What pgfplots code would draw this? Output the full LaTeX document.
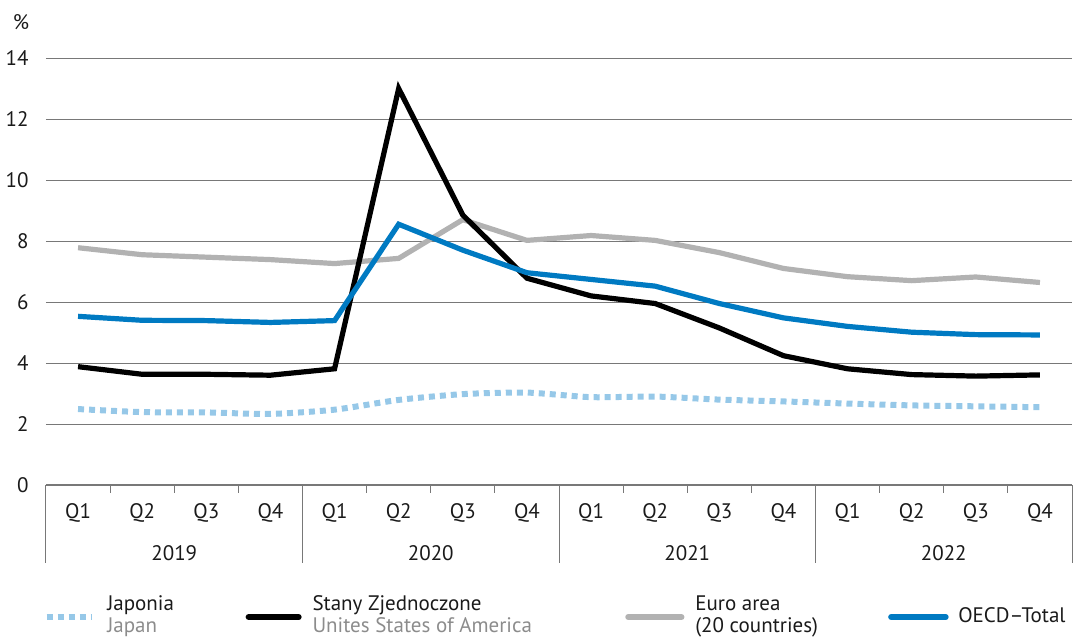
\documentclass[border=0pt]{standalone}
\usepackage{pgfplots}
\pgfplotsset{compat=1.18}
\usepackage{fontspec}
\setmainfont{PT Sans}
\definecolor{usa}{RGB}{0,0,0}
\definecolor{euro}{RGB}{178,178,178}
\definecolor{oecd}{RGB}{0,122,194}
\definecolor{japan}{RGB}{150,200,232}
\definecolor{gridc}{RGB}{120,120,120}
\definecolor{txt}{RGB}{26,26,26}
\definecolor{sub}{RGB}{140,140,140}
\begin{document}
\fontsize{10.5pt}{12pt}\selectfont
\begin{tikzpicture}
\begin{axis}[
  scale only axis,
  width=513pt, height=213.5pt,
  xmin=-0.5, xmax=15.5, ymin=0, ymax=14,
  clip=false,
  axis x line*=bottom,
  axis y line*=left,
  y axis line style={draw=none},
  x axis line style={gridc, line width=0.6pt},
  xtick={0,...,15},
  xticklabels={Q1,Q2,Q3,Q4,Q1,Q2,Q3,Q4,Q1,Q2,Q3,Q4,Q1,Q2,Q3,Q4},
  xticklabel style={anchor=base, yshift=-16.5pt, text=txt},
  major tick length=0pt,
  ytick={0,2,...,14},
  ymajorgrids,
  grid style={gridc, line width=0.5pt},
  /pgf/number format/assume math mode=true,
  yticklabel style={anchor=east, xshift=-5pt, text=txt},
  tick style={draw=none},
]
\pgfplotsinvokeforeach{0.5,1.5,2.5,4.5,5.5,6.5,8.5,9.5,10.5,12.5,13.5,14.5}{
  \draw[gridc, line width=0.5pt] (axis cs:#1,0) -- ([yshift=-4pt]axis cs:#1,0);
}
\pgfplotsinvokeforeach{-0.5,3.5,7.5,11.5,15.5}{
  \draw[gridc, line width=0.5pt] (axis cs:#1,0) -- ([yshift=-39pt]axis cs:#1,0);
}
\node[anchor=base, text=txt] at ([yshift=-37.5pt]axis cs:1.5,0) {2019};
\node[anchor=base, text=txt] at ([yshift=-37.5pt]axis cs:5.5,0) {2020};
\node[anchor=base, text=txt] at ([yshift=-37.5pt]axis cs:9.5,0) {2021};
\node[anchor=base, text=txt] at ([yshift=-37.5pt]axis cs:13.5,0) {2022};
\node[text=txt] at (axis cs:-0.89,15.18) {\%};

% Japan
\addplot[japan, line width=3pt, dash pattern=on 3pt off 2.5pt, smooth, tension=0.4] coordinates {
(0,2.49)(1,2.39)(2,2.38)(3,2.33)(4,2.47)(5,2.79)(6,2.98)(7,3.03)
(8,2.88)(9,2.90)(10,2.80)(11,2.74)(12,2.67)(13,2.61)(14,2.58)(15,2.55)};
% Euro area
\addplot[euro, line width=2.6pt] coordinates {
(0,7.78)(1,7.55)(2,7.47)(3,7.39)(4,7.26)(5,7.43)(6,8.70)(7,8.02)
(8,8.18)(9,8.02)(10,7.62)(11,7.10)(12,6.83)(13,6.70)(14,6.82)(15,6.64)};
% USA
\addplot[usa, line width=2.6pt] coordinates {
(0,3.88)(1,3.63)(2,3.63)(3,3.60)(4,3.81)(5,13.0)(6,8.85)(7,6.78)
(8,6.20)(9,5.95)(10,5.15)(11,4.24)(12,3.81)(13,3.62)(14,3.57)(15,3.61)};
% OECD
\addplot[oecd, line width=2.6pt] coordinates {
(0,5.53)(1,5.40)(2,5.39)(3,5.33)(4,5.39)(5,8.55)(6,7.70)(7,6.96)
(8,6.74)(9,6.52)(10,5.95)(11,5.48)(12,5.20)(13,5.01)(14,4.93)(15,4.92)};

% legend
\draw[japan, line width=3pt, dash pattern=on 3pt off 2.5pt] (axis cs:-0.49,-4.33) -- (axis cs:0.22,-4.33);
\node[anchor=base west, inner sep=0pt, text=txt] at (axis cs:0.45,-4.10) {Japonia};
\node[anchor=base west, inner sep=0pt, text=sub] at (axis cs:0.45,-4.85) {Japan};
\draw[usa, line width=3pt, line cap=round] (axis cs:2.66,-4.33) -- (axis cs:3.44,-4.33);
\node[anchor=base west, inner sep=0pt, text=txt] at (axis cs:3.65,-4.10) {Stany Zjednoczone};
\node[anchor=base west, inner sep=0pt, text=sub] at (axis cs:3.65,-4.85) {Unites States of America};
\draw[euro, line width=3pt, line cap=round] (axis cs:8.58,-4.33) -- (axis cs:9.41,-4.33);
\node[anchor=base west, inner sep=0pt, text=txt] at (axis cs:9.62,-4.10) {Euro area};
\node[anchor=base west, inner sep=0pt, text=txt] at (axis cs:9.62,-4.85) {(20 countries)};
\draw[oecd, line width=3pt, line cap=round] (axis cs:12.68,-4.33) -- (axis cs:13.53,-4.33);
\node[anchor=base west, inner sep=0pt, text=txt] at (axis cs:13.72,-4.52) {OECD–Total};
\end{axis}
\pgfresetboundingbox
\path (-23pt,-76.5pt) rectangle (515.5pt,242.5pt);
\end{tikzpicture}
\end{document}
